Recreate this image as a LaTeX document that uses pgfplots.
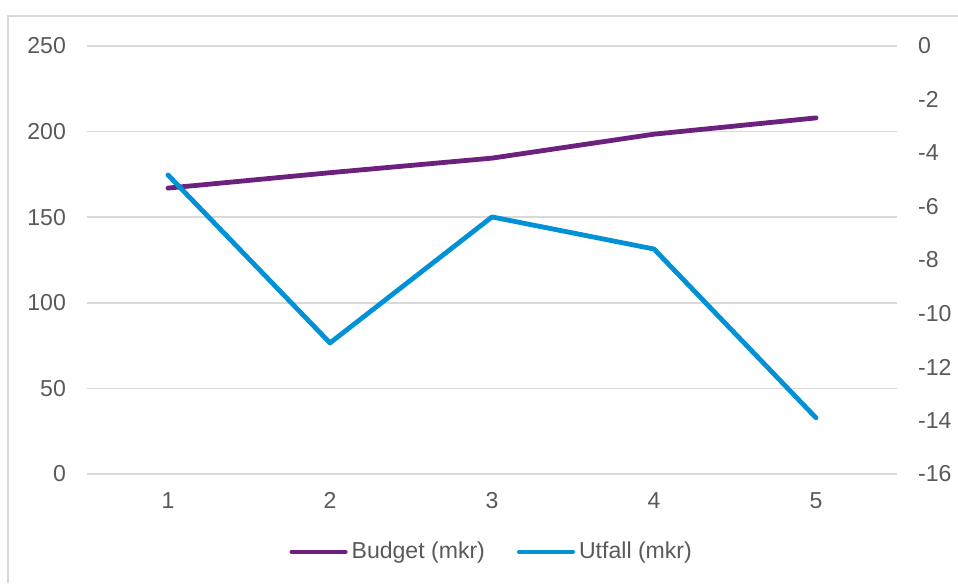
\documentclass[border=0pt]{standalone}
\usepackage{pgfplots}
\pgfplotsset{compat=1.18}
\usepackage{fontspec}
\setmainfont{Liberation Sans}
\definecolor{budget}{RGB}{107,33,125}
\definecolor{utfall}{RGB}{0,145,214}
\definecolor{txt}{RGB}{89,89,89}
\definecolor{grd}{RGB}{217,217,217}
\begin{document}
\fontsize{17}{20}\selectfont
\begin{tikzpicture}
\path[use as bounding box] (0,0) rectangle (718.5pt,437.25pt);
\draw[grd, line width=1.2pt] (6pt,0pt) -- (6pt,425.25pt) -- (718.5pt,425.25pt);
\pgfplotsset{
  common/.style={
    scale only axis, width=607.5pt, height=321pt,
    at={(65.25pt,81.75pt)}, anchor=south west,
    xmin=0.5, xmax=5.5,
    axis line style={draw=none},
    major tick length=0pt,
    tick label style={font=\fontsize{17.3}{20}\selectfont, text=txt},
    /pgf/number format/assume math mode=true,
  }
}
\begin{axis}[common,
  ymin=0, ymax=250, ytick={0,50,...,250},
  xtick={1,2,3,4,5},
  ymajorgrids, grid style={grd, line width=1.3pt},
  yticklabel style={xshift=-10pt},
  xticklabel style={yshift=-8pt},
]
\addplot[budget, line width=3.6pt, line cap=round, line join=round] coordinates {
(1,167) (2,176) (3,184.5) (4,198.5) (5,208)};
\end{axis}
\begin{axis}[common,
  ymin=-16, ymax=0, ytick={-16,-14,...,0},
  axis y line*=right, xtick=\empty,
  yticklabel style={xshift=10pt},
  legend style={at={(0.5,-0.182)}, anchor=center, draw=none, fill=none,
    legend columns=2, font=\fontsize{17.3}{20}\selectfont, text=txt,
    /tikz/every odd column/.append style={column sep=0pt},
    /tikz/every even column/.append style={column sep=22pt},
    inner sep=0pt},
  legend image code/.code={\draw[#1, line width=3.6pt, line cap=round] (0pt,0pt) -- (40pt,0pt);},
  legend cell align=left,
]
\addlegendimage{budget, line width=3.6pt}
\addlegendentry{\hspace{1pt}Budget (mkr)}
\addplot[utfall, line width=3.6pt, line cap=round, line join=round] coordinates {
(1,-4.82) (2,-11.1) (3,-6.39) (4,-7.59) (5,-13.9)};
\addlegendentry{\hspace{1pt}Utfall (mkr)}
\end{axis}
\end{tikzpicture}
\end{document}
